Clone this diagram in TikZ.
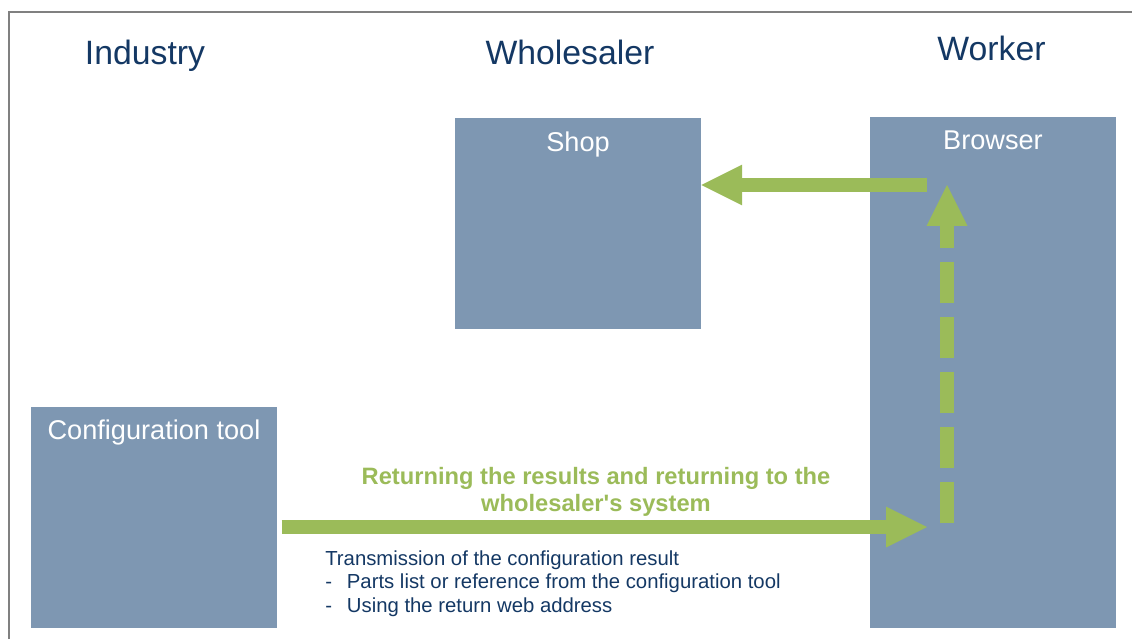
\documentclass[tikz,border=0pt]{standalone}
\usepackage{fontspec}
\setmainfont{Liberation Sans}
\usetikzlibrary{positioning, arrows.meta}
\definecolor{boxblue}{RGB}{126,151,178}
\definecolor{headblue}{RGB}{20,56,100}
\definecolor{arrowgreen}{RGB}{155,187,89}
\definecolor{framegray}{RGB}{128,128,128}

\begin{document}
\begin{tikzpicture}[x=0.025cm, y=-0.025cm, header/.style={text=headblue, font=\fontsize{24}{28}\selectfont, anchor=base, inner sep=0pt}, box/.style={rectangle, fill=boxblue, minimum width=6.15cm, inner sep=0pt}, boxlabel/.style={text=white, font=\fontsize{19.3}{23}\selectfont, anchor=base, inner sep=0pt}, arrow/.style={-{Triangle[length=29pt, width=29pt, line width=0pt]}, line width=9.6pt, draw=arrowgreen}]
        
        \useasboundingbox (0,0) rectangle (1132,639);
        \draw[framegray, line width=1.4pt] (9,639) -- (9,12) -- (1132,12);
        
        \node [header] (industry) at (145,64) {Industry};
        \node [header] (wholesaler) at (570,64) {Wholesaler};
        \node [header] (worker) at (991.5,60) {Worker};
        
        \node [box, minimum height=5.525cm] (conf) at (154,517.5) {};
        \node [box, minimum height=5.275cm] (shop) at (578,223.5) {};
        \node [box, minimum height=12.775cm] (browser) at (993,372.5) {};
        
        \node [boxlabel] (conflabel) at ([yshift=-0.825cm]conf.north) {Configuration tool};
        \node [boxlabel] (shoplabel) at ([yshift=-0.85cm]shop.north) {Shop};
        \node [boxlabel] (browserlabel) at ([yshift=-0.825cm]browser.north) {Browser};
        
        \coordinate (orderstart) at (927,185);
        \coordinate (resultstart) at (281.7,527);
        \coordinate (resultend) at (927,527);
        \coordinate (backstart) at (947,523.3);
        \coordinate (backend) at (947,185);
        
        \draw[arrow] (orderstart) -- (orderstart -| shop.east);
        \draw[arrow] (resultstart) -- (resultend);
        \draw[arrow, dash pattern=on 29.66pt off 9.46pt] (backstart) -- (backend);
        
        \node [anchor=base, inner sep=0pt, align=center, text=arrowgreen, font=\bfseries\fontsize{16.85}{19}\selectfont] (returning) at (596,511) {Returning the results and returning to the\\wholesaler\textquotesingle s system};
        \node [anchor=base west, inner sep=0pt, align=left, text=headblue, font=\fontsize{14.45}{16.8}\selectfont] (transmission) at (325,612.3) {Transmission of the configuration result\\\makebox[15.4pt][l]{-}Parts list or reference from the configuration tool\\\makebox[15.4pt][l]{-}Using the return web address};
        
    \end{tikzpicture}
\end{document}
